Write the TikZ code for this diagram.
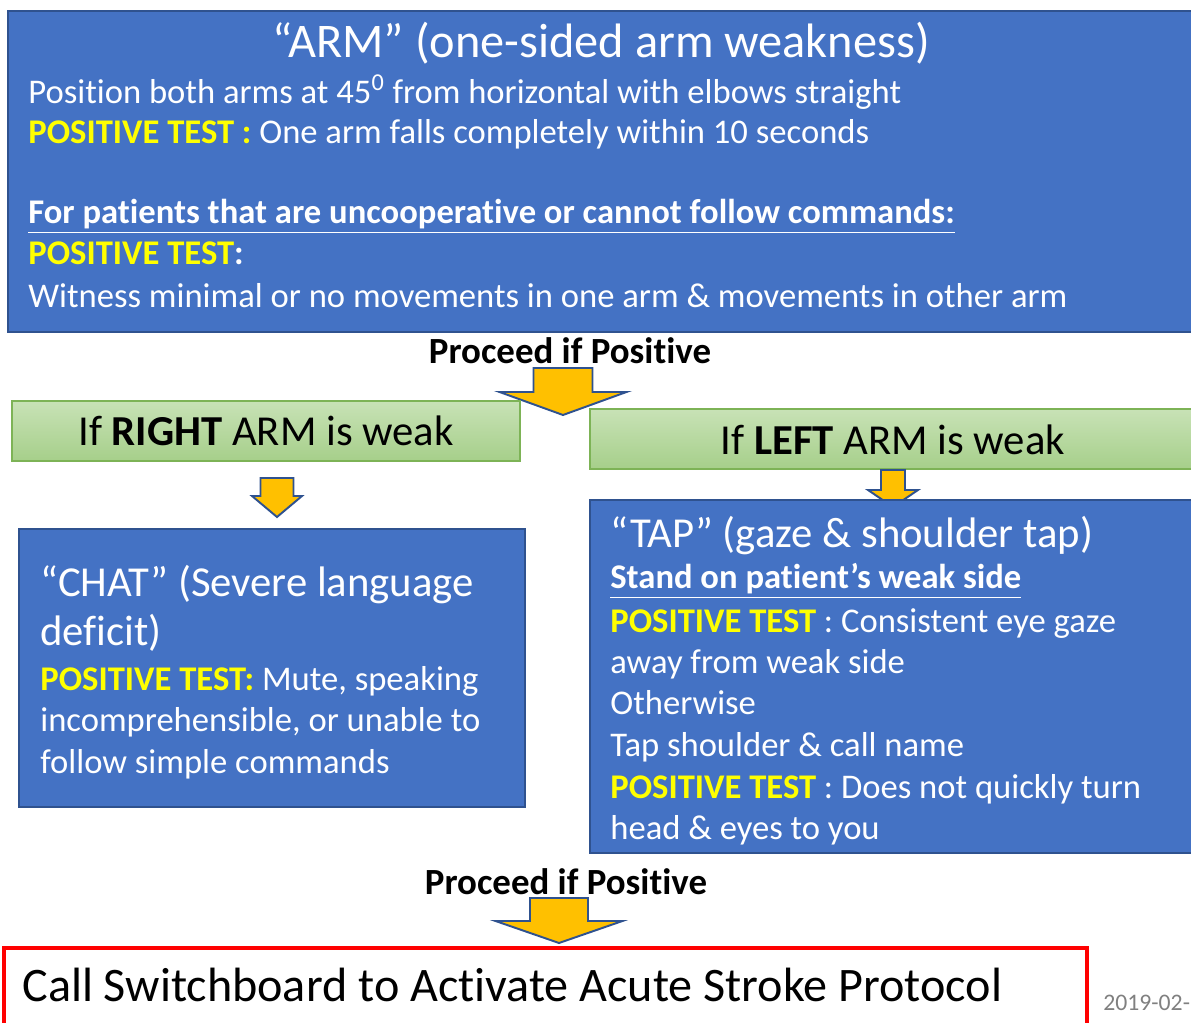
\documentclass[tikz,border=0pt]{standalone}
\usepackage{fontspec}
\setmainfont[RawFeature=-liga]{Carlito}
\usepackage{tikz}
\usetikzlibrary{fit}
\definecolor{boxblue}{HTML}{4472C4}
\definecolor{edgeblue}{HTML}{2F528F}
\definecolor{arrowgold}{HTML}{FFC000}
\definecolor{greenedge}{HTML}{7DB356}
\definecolor{greentop}{HTML}{C8E2B6}
\definecolor{greenbot}{HTML}{A6CF8A}
\definecolor{postyellow}{HTML}{FFFF00}
\definecolor{dategrey}{HTML}{808080}
\newcommand{\postest}[1]{\textcolor{postyellow}{\textbf{#1}}}
\newcommand{\blockarr}[6]{% centre x, top y, shaft half, head half, shaft end y, tip y
  \draw[arrowshape] (#1-#3,#2) -- (#1+#3,#2) -- (#1+#3,#5) -- (#1+#4,#5)
    -- (#1,#6) -- (#1-#4,#5) -- (#1-#3,#5) -- cycle;}
\tikzset{%
  bluebox/.style={draw=edgeblue,fill=boxblue,line width=1.1pt,inner sep=0},
  greenbox/.style={draw=greenedge,top color=greentop,bottom color=greenbot,line width=0.9pt,inner sep=0},
  callbox/.style={draw=red,line width=2.2pt,inner sep=0},
  arrowshape/.style={draw=edgeblue,fill=arrowgold,line width=1.1pt,line join=miter},
  line/.style={anchor=base west,inner sep=0,text=white,font=\fontsize{19.7}{23}\selectfont},
  headline/.style={line,font=\fontsize{24.3}{28}\selectfont},
  proceed/.style={anchor=base,inner sep=0,font=\fontsize{21}{24}\selectfont\bfseries}
}

\begin{document}
\begin{tikzpicture}[x=0.02cm,y=-0.02cm]
  \useasboundingbox (0,0) rectangle (1191,1023);
  \clip (0,0) rectangle (1191,1023);

  % ARM box
  \node[bluebox,fit={(8,11) (1210,332)}] (arm) {};
  \node[anchor=base,inner sep=0,text=white,font=\fontsize{27.5}{31}\selectfont]
    (armtitle) at (601,58) {“ARM” (one-sided arm weakness)};
  \node[line] (arm1) at (28,104) {Position both arms at 45\textsuperscript{0} from horizontal with elbows straight};
  \node[line] (arm2) at (28,144) {\postest{POSITIVE TEST :} One arm falls completely within 10 seconds};
  \node[line] (arm3) at (28,224) {\textbf{\underline{For patients that are uncooperative or cannot follow commands:}}};
  \node[line] (arm4) at (28,265) {\postest{POSITIVE TEST}\textbf{:}};
  \node[line] (arm5) at (28,308) {Witness minimal or no movements in one arm \& movements in other arm};

  \node[proceed] (go1) at (570,364) {Proceed if Positive};
  \blockarr{563}{368}{29.5}{63.5}{392}{415}

  % which side
  \node[greenbox,fit={(12,401) (520,461)}] (right) {};
  \node[anchor=base,inner sep=0,font=\fontsize{24.3}{28}\selectfont]
    (righttxt) at (266,446) {If \textbf{RIGHT} ARM is weak};
  \node[greenbox,fit={(590,409) (1210,469)}] (left) {};
  \node[anchor=base,inner sep=0,font=\fontsize{24.3}{28}\selectfont]
    (lefttxt) at (893,455) {If \textbf{LEFT} ARM is weak};

  \blockarr{277}{478}{16.5}{25}{496}{517}
  \blockarr{893}{470}{12}{25}{490}{507}

  % CHAT box
  \node[bluebox,fit={(19,529) (525,807)}] (chat) {};
  \node[headline] (chat1) at (40,597) {“CHAT” (Severe language};
  \node[headline] (chat2) at (40,646) {deficit)};
  \node[line] (chat3) at (40,691) {\postest{POSITIVE TEST:} Mute, speaking};
  \node[line] (chat4) at (40,732) {incomprehensible, or unable to};
  \node[line] (chat5) at (40,774) {follow simple commands};

  % TAP box
  \node[bluebox,fit={(590,500) (1210,853)}] (tap) {};
  \node[headline] (tap1) at (610,548) {“TAP” (gaze \& shoulder tap)};
  \node[line] (tap2) at (610,589) {\textbf{\underline{Stand on patient’s weak side}}};
  \node[line] (tap3) at (610,633) {\postest{POSITIVE TEST} : Consistent eye gaze};
  \node[line] (tap4) at (610,674) {away from weak side};
  \node[line] (tap5) at (610,715) {Otherwise};
  \node[line] (tap6) at (610,757) {Tap shoulder \& call name};
  \node[line] (tap7) at (610,799) {\postest{POSITIVE TEST} : Does not quickly turn};
  \node[line] (tap8) at (610,840) {head \& eyes to you};

  \node[proceed] (go2) at (566,894) {Proceed if Positive};
  \blockarr{559}{898}{29}{63.5}{921}{943}

  % final step
  \node[callbox,fit={(4,948) (1087,1060)}] (call) {};
  \node[anchor=base west,inner sep=0,font=\fontsize{27.4}{32}\selectfont]
    (calltxt) at (22,1001) {Call Switchboard to Activate Acute Stroke Protocol};
  \node[anchor=base west,inner sep=0,text=dategrey,font=\fontsize{13.5}{16}\selectfont]
    (date) at (1103,1010) {2019-02-};
\end{tikzpicture}
\end{document}
